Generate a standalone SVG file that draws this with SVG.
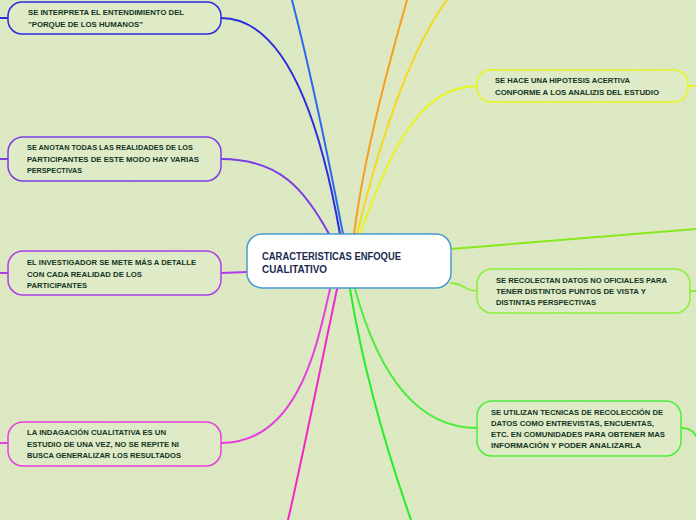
<svg xmlns="http://www.w3.org/2000/svg" width="696" height="520" viewBox="0 0 696 520">
<defs>
<pattern id="hatch" width="5" height="5" patternUnits="userSpaceOnUse" patternTransform="rotate(45)">
<rect width="5" height="5" fill="#dde9c2"/>
<line x1="0" y1="0" x2="0" y2="5" stroke="#d7e4bc" stroke-width="1"/>
</pattern>
</defs>
<style>
.c{fill:none;stroke-width:2;stroke-linecap:round}
.n{fill:#dfeac6;stroke-width:1.5}
.t{font-family:"Liberation Sans",Arial,sans-serif;font-weight:bold;font-size:8px;fill:#123524}
.ct{font-family:"Liberation Sans",Arial,sans-serif;font-weight:bold;font-size:10px;fill:#1b2a4e}
</style>
<rect width="696" height="520" fill="url(#hatch)"/>
<g id="connectors">
<path class="c" stroke="#2b2be0" d="M221,18 C285,18 320,120 340,234"/>
<path class="c" stroke="#7b3ee6" d="M221,159 C280,159 305,190 329,234"/>
<path class="c" stroke="#b03ee8" d="M221,273 L247,272"/>
<path class="c" stroke="#e83ee0" d="M221,443 C300,443 318,340 330,289"/>
<path class="c" stroke="#f028c8" d="M337,289 C320,370 302,460 288,520"/>
<path class="c" stroke="#2a6af0" d="M343,234 C325,140 305,50 292,0"/>
<path class="c" stroke="#f5a020" d="M354,234 C365,150 390,60 407,0"/>
<path class="c" stroke="#f5d820" d="M357,234 C380,140 410,50 447,0"/>
<path class="c" stroke="#e8f520" d="M360,234 C390,150 420,86 477,86"/>
<path class="c" stroke="#88e81e" d="M451,249 L696,229"/>
<path class="c" stroke="#8cee3c" d="M451,283 C463,283 465,291 477,291"/>
<path class="c" stroke="#4cee3c" d="M355,289 C380,380 420,428 477,428"/>
<path class="c" stroke="#28ee28" d="M350,289 C365,380 390,460 411,520"/>
<path class="c" stroke="#2b2be0" d="M0,18 L8,18"/>
<path class="c" stroke="#7b3ee6" d="M0,159 L8,159"/>
<path class="c" stroke="#b03ee8" d="M0,273 L8,273"/>
<path class="c" stroke="#e83ee0" d="M0,443 L8,443"/>
<path class="c" stroke="#e8f520" d="M688,86 L696,86"/>
<path class="c" stroke="#8cee3c" d="M690,291 L696,291"/>
<path class="c" stroke="#4cee3c" d="M682,428 C690,428 694,432 696,436"/>
</g>
<g id="center">
<rect x="247" y="234" width="204" height="54" rx="15" fill="#ffffff" stroke="#4a9ad0" stroke-width="1.5"/>
<text class="ct" x="262" y="260" textLength="139" lengthAdjust="spacingAndGlyphs">CARACTERISTICAS ENFOQUE</text>
<text class="ct" x="262" y="273" textLength="65" lengthAdjust="spacingAndGlyphs">CUALITATIVO</text>
</g>
<g id="node1">
<rect class="n" x="8" y="2" width="213" height="32" rx="14" stroke="#2b2be0"/>
<text class="t" x="28" y="15" textLength="156" lengthAdjust="spacingAndGlyphs">SE INTERPRETA EL ENTENDIMIENTO DEL</text>
<text class="t" x="28" y="27" textLength="115" lengthAdjust="spacingAndGlyphs">"PORQUE DE LOS HUMANOS"</text>
</g>
<g id="node2">
<rect class="n" x="8" y="137" width="213" height="44" rx="15" stroke="#7b3ee6"/>
<text class="t" x="27" y="150" textLength="166" lengthAdjust="spacingAndGlyphs">SE ANOTAN TODAS LAS REALIDADES DE LOS</text>
<text class="t" x="27" y="162" textLength="172" lengthAdjust="spacingAndGlyphs">PARTICIPANTES  DE ESTE MODO HAY VARIAS</text>
<text class="t" x="27" y="173" textLength="55" lengthAdjust="spacingAndGlyphs">PERSPECTIVAS</text>
</g>
<g id="node3">
<rect class="n" x="8" y="251" width="213" height="44" rx="15" stroke="#b03ee8"/>
<text class="t" x="27" y="265" textLength="169" lengthAdjust="spacingAndGlyphs">EL INVESTIGADOR  SE METE MÁS A DETALLE</text>
<text class="t" x="27" y="277" textLength="115" lengthAdjust="spacingAndGlyphs">CON CADA REALIDAD DE LOS</text>
<text class="t" x="27" y="288" textLength="60" lengthAdjust="spacingAndGlyphs">PARTICIPANTES</text>
</g>
<g id="node4">
<rect class="n" x="8" y="422" width="213" height="44" rx="15" stroke="#e83ee0"/>
<text class="t" x="27" y="435" textLength="139" lengthAdjust="spacingAndGlyphs">LA INDAGACIÓN CUALITATIVA ES UN</text>
<text class="t" x="27" y="447" textLength="152" lengthAdjust="spacingAndGlyphs">ESTUDIO DE UNA VEZ, NO SE REPITE NI</text>
<text class="t" x="27" y="458" textLength="154" lengthAdjust="spacingAndGlyphs">BUSCA GENERALIZAR LOS RESULTADOS</text>
</g>
<g id="node5">
<rect class="n" x="477" y="70" width="211" height="32" rx="14" stroke="#e8f520"/>
<text class="t" x="495" y="83" textLength="135" lengthAdjust="spacingAndGlyphs">SE HACE UNA HIPOTESIS ACERTIVA</text>
<text class="t" x="495" y="95" textLength="164" lengthAdjust="spacingAndGlyphs">CONFORME A LOS ANALIZIS DEL ESTUDIO</text>
</g>
<g id="node6">
<rect class="n" x="477" y="269" width="213" height="44" rx="15" stroke="#8cee3c"/>
<text class="t" x="496" y="283" textLength="171" lengthAdjust="spacingAndGlyphs">SE RECOLECTAN DATOS NO OFICIALES PARA</text>
<text class="t" x="496" y="294" textLength="150" lengthAdjust="spacingAndGlyphs">TENER DISTINTOS PUNTOS DE VISTA Y</text>
<text class="t" x="496" y="305" textLength="100" lengthAdjust="spacingAndGlyphs">DISTINTAS PERSPECTIVAS</text>
</g>
<g id="node7">
<rect class="n" x="477" y="401" width="204" height="55" rx="15" stroke="#4cee3c"/>
<text class="t" x="491" y="415" textLength="172" lengthAdjust="spacingAndGlyphs">SE UTILIZAN TECNICAS DE RECOLECCIÓN DE</text>
<text class="t" x="491" y="426" textLength="163" lengthAdjust="spacingAndGlyphs">DATOS COMO ENTREVISTAS, ENCUENTAS,</text>
<text class="t" x="491" y="437" textLength="174" lengthAdjust="spacingAndGlyphs">ETC. EN COMUNIDADES PARA OBTENER MAS</text>
<text class="t" x="491" y="448" textLength="150" lengthAdjust="spacingAndGlyphs">INFORMACIÓN Y PODER ANALIZARLA</text>
</g>
</svg>
